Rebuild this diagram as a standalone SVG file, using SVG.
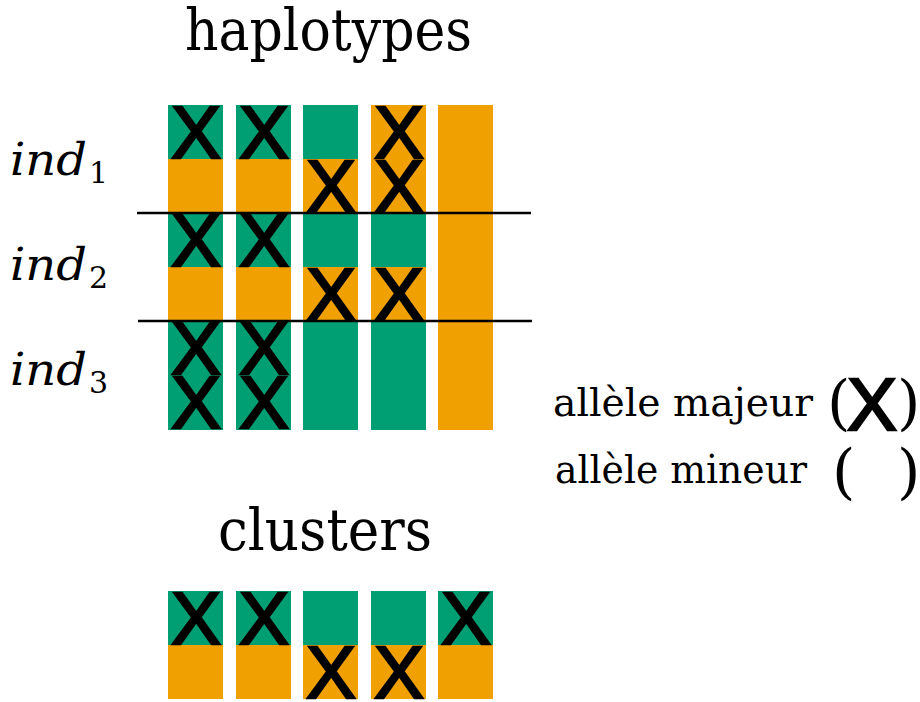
<svg xmlns="http://www.w3.org/2000/svg" width="920" height="702" viewBox="0 0 920 702">
<style>
.g{fill:#009E73}
.o{fill:#F0A000}
.x{font-family:'Liberation Sans','DejaVu Sans',sans-serif;font-size:75px;text-anchor:middle;fill:#000;stroke:#000;stroke-width:2.4px}
.t{font-family:'DejaVu Serif','Liberation Serif',serif;fill:#000}
.it{font-family:'DejaVu Serif','Liberation Serif',serif;font-style:italic;font-size:44px;fill:#000}
.sub{font-family:'DejaVu Serif','Liberation Serif',serif;font-size:30px;fill:#000}
.sep{stroke:#000;stroke-width:2.5;fill:none}
</style>
<rect width="920" height="702" fill="#fff"/>
<g id="title-haplotypes"><text class="t" x="185" y="50" font-size="58" textLength="287" lengthAdjust="spacingAndGlyphs">haplotypes</text></g>
<g id="label-ind1"><text class="it" x="10" y="175" textLength="77" lengthAdjust="spacingAndGlyphs">ind</text><text class="sub" x="89" y="183">1</text></g>
<g id="label-ind2"><text class="it" x="10" y="280" textLength="77" lengthAdjust="spacingAndGlyphs">ind</text><text class="sub" x="89" y="288">2</text></g>
<g id="label-ind3"><text class="it" x="10" y="385" textLength="77" lengthAdjust="spacingAndGlyphs">ind</text><text class="sub" x="89" y="393">3</text></g>
<g id="haplotype-grid">
<rect class="g" x="168" y="105" width="55" height="54"/><rect class="g" x="236" y="105" width="55" height="54"/><rect class="g" x="303" y="105" width="55" height="54"/><rect class="o" x="371" y="105" width="55" height="54"/><rect class="o" x="438" y="105" width="55" height="54"/>
<rect class="o" x="168" y="159" width="55" height="54"/><rect class="o" x="236" y="159" width="55" height="54"/><rect class="o" x="303" y="159" width="55" height="54"/><rect class="o" x="371" y="159" width="55" height="54"/><rect class="o" x="438" y="159" width="55" height="54"/>
<rect class="g" x="168" y="213" width="55" height="54"/><rect class="g" x="236" y="213" width="55" height="54"/><rect class="g" x="303" y="213" width="55" height="54"/><rect class="g" x="371" y="213" width="55" height="54"/><rect class="o" x="438" y="213" width="55" height="54"/>
<rect class="o" x="168" y="267" width="55" height="54"/><rect class="o" x="236" y="267" width="55" height="54"/><rect class="o" x="303" y="267" width="55" height="54"/><rect class="o" x="371" y="267" width="55" height="54"/><rect class="o" x="438" y="267" width="55" height="54"/>
<rect class="g" x="168" y="321" width="55" height="109"/><rect class="g" x="236" y="321" width="55" height="109"/><rect class="g" x="303" y="321" width="55" height="109"/><rect class="g" x="371" y="321" width="55" height="109"/><rect class="o" x="438" y="321" width="55" height="109"/>
<text class="x" x="196" y="158">X</text><text class="x" x="264" y="158">X</text><text class="x" x="399" y="158">X</text>
<text class="x" x="331" y="212">X</text><text class="x" x="399" y="212">X</text>
<text class="x" x="196" y="266">X</text><text class="x" x="264" y="266">X</text>
<text class="x" x="331" y="320">X</text><text class="x" x="399" y="320">X</text>
<text class="x" x="196" y="374">X</text><text class="x" x="264" y="374">X</text>
<text class="x" x="196" y="428">X</text><text class="x" x="264" y="428">X</text>
</g>
<g id="separators">
<line class="sep" x1="137" y1="213" x2="531" y2="213"/>
<line class="sep" x1="138" y1="321" x2="532" y2="321"/>
</g>
<g id="legend-major">
<text class="t" x="553" y="416" font-size="40" textLength="260" lengthAdjust="spacingAndGlyphs">allèle majeur</text>
<text class="t" x="827" y="423" font-size="60">(</text>
<text class="x" x="872" y="430">X</text>
<text class="t" x="897" y="423" font-size="60">)</text>
</g>
<g id="legend-minor">
<text class="t" x="555" y="483" font-size="40" textLength="252" lengthAdjust="spacingAndGlyphs">allèle mineur</text>
<text class="t" x="832" y="492" font-size="60">(</text>
<text class="t" x="897" y="492" font-size="60">)</text>
</g>
<g id="title-clusters"><text class="t" x="218" y="550" font-size="57" textLength="214" lengthAdjust="spacingAndGlyphs">clusters</text></g>
<g id="cluster-grid">
<rect class="g" x="168" y="591" width="55" height="54"/><rect class="g" x="236" y="591" width="55" height="54"/><rect class="g" x="303" y="591" width="55" height="54"/><rect class="g" x="371" y="591" width="55" height="54"/><rect class="g" x="438" y="591" width="55" height="54"/>
<rect class="o" x="168" y="645" width="55" height="54"/><rect class="o" x="236" y="645" width="55" height="54"/><rect class="o" x="303" y="645" width="55" height="54"/><rect class="o" x="371" y="645" width="55" height="54"/><rect class="o" x="438" y="645" width="55" height="54"/>
<text class="x" x="196" y="644">X</text><text class="x" x="264" y="644">X</text><text class="x" x="466" y="644">X</text>
<text class="x" x="331" y="698">X</text><text class="x" x="399" y="698">X</text>
</g>
</svg>
